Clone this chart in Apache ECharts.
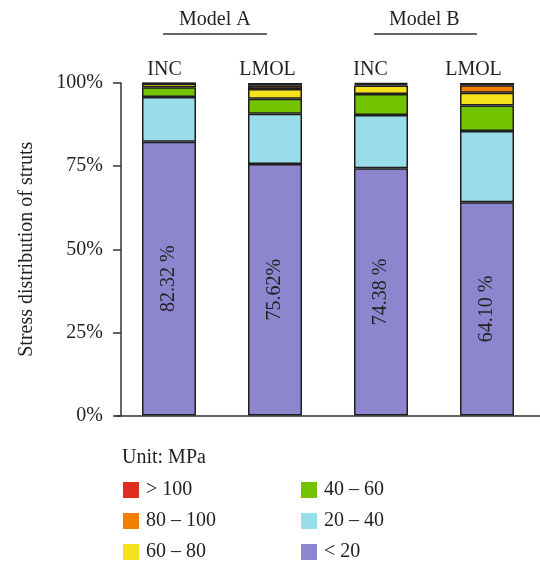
<!DOCTYPE html>
<html>
<head>
<meta charset="utf-8">
<script src="https://cdn.jsdelivr.net/npm/echarts@6/dist/echarts.min.js"></script>
<style>
  html, body { margin: 0; padding: 0; background: #fff; }
  #chart { width: 540px; height: 564px; }
</style>
</head>
<body>
<div id="chart"></div>
<script>
// Strut stress distribution, share of struts per stress band (%)
const categories = ['INC', 'LMOL', 'INC', 'LMOL'];
const groups = ['Model A', 'Model B'];
const yTicks = [0, 25, 50, 75, 100];

const below20 = [82.32, 75.62, 74.38, 64.10];
const band20to40 = [13.5, 15.1, 16.0, 21.5];
const band40to60 = [2.9, 4.55, 6.3, 7.6];
const band60to80 = [1.1, 2.9, 2.6, 3.9];
const band80to100 = [0.1, 1.0, 0.4, 2.2];
const above100 = [0.08, 0.83, 0.32, 0.7];
const pctSuffix = [' %', '%', ' %', ' %'];

const SERIF = '"Liberation Serif", "DejaVu Serif", serif';
const INK = '#231f20';
const FS = 20;

const bands = [
  { name: '< 20', data: below20, color: '#8d86cf' },
  { name: '20 – 40', data: band20to40, color: '#98dde9' },
  { name: '40 – 60', data: band40to60, color: '#74c300' },
  { name: '60 – 80', data: band60to80, color: '#f6e21b' },
  { name: '80 – 100', data: band80to100, color: '#f27f00' },
  { name: '> 100', data: above100, color: '#df2e1f' }
];

const series = bands.map((b, i) => ({
  name: b.name,
  type: 'bar',
  stack: 'total',
  barWidth: 54,
  data: b.data,
  itemStyle: { color: b.color, borderColor: '#1e1e1e', borderWidth: 1.5 },
  label: i === 0 ? {
    show: true,
    position: 'inside',
    rotate: 90,
    fontFamily: SERIF,
    fontSize: FS,
    color: INK,
    formatter: p => p.value.toFixed(2) + pctSuffix[p.dataIndex]
  } : { show: false },
  emphasis: { disabled: true },
  animation: false
}));

// Hidden series that only carries the top category labels
series.push({
  type: 'bar', xAxisIndex: 1, yAxisIndex: 1, data: [], silent: true
});

const legendBase = {
  orient: 'vertical',
  top: 480,
  height: 120,
  padding: 0,
  itemWidth: 16, itemHeight: 16, itemGap: 11,
  icon: 'rect',
  itemStyle: { borderWidth: 0 },
  textStyle: { fontFamily: SERIF, fontSize: FS, color: INK, padding: [0, 0, 0, 2] },
  selectedMode: false
};

const chart = echarts.init(document.getElementById('chart'), null, { renderer: 'canvas' });

chart.setOption({
  animation: false,
  backgroundColor: '#fff',
  textStyle: { fontFamily: SERIF },
  title: {
    text: 'Unit: MPa',
    left: 117,
    top: 443,
    textStyle: { fontFamily: SERIF, fontSize: FS, fontWeight: 'normal', color: INK }
  },
  legend: [
    Object.assign({}, legendBase, { data: ['> 100', '80 – 100', '60 – 80'], left: 123 }),
    Object.assign({}, legendBase, { data: ['40 – 60', '20 – 40', '< 20'], left: 301 })
  ],
  grid: [
    { left: 116, right: 0, top: 83, bottom: 148.5 },
    { left: 113, right: 15, top: 83, bottom: 148.5 }
  ],
  xAxis: [
    {
      type: 'category',
      gridIndex: 0,
      data: categories,
      axisLine: { lineStyle: { color: '#333', width: 1.5 } },
      axisTick: { show: false },
      axisLabel: { show: false }
    },
    {
      type: 'category',
      gridIndex: 1,
      position: 'top',
      data: categories,
      axisLine: { show: false },
      axisTick: { show: false },
      axisLabel: { fontFamily: SERIF, fontSize: FS, color: INK, margin: 3 }
    }
  ],
  yAxis: [
    {
      type: 'value',
      gridIndex: 0,
      min: 0, max: 100, interval: 25,
      offset: -5,
      name: 'Stress distribution of struts',
      nameLocation: 'middle',
      nameGap: 84,
      nameTextStyle: { fontFamily: SERIF, fontSize: FS, color: INK },
      axisLine: { show: true, lineStyle: { color: '#333', width: 1.5 } },
      axisTick: { show: true, length: 8, lineStyle: { color: '#333', width: 1.5 },
        customValues: yTicks },
      axisLabel: {
        fontFamily: SERIF, fontSize: FS, color: INK, margin: 18,
        customValues: yTicks,
        formatter: v => v + '%'
      },
      splitLine: { show: false }
    },
    {
      type: 'value', gridIndex: 1, min: 0, max: 100, show: false
    }
  ],
  graphic: [
    { type: 'text', left: 179, top: 10,
      style: { text: groups[0], font: FS + 'px ' + SERIF, fill: INK } },
    { type: 'line', shape: { x1: 163, y1: 34, x2: 267, y2: 34 },
      style: { stroke: '#333', lineWidth: 1.5 } },
    { type: 'text', left: 389, top: 10,
      style: { text: groups[1], font: FS + 'px ' + SERIF, fill: INK } },
    { type: 'line', shape: { x1: 374, y1: 34, x2: 477, y2: 34 },
      style: { stroke: '#333', lineWidth: 1.5 } }
  ],
  series: series
});
</script>
</body>
</html>
